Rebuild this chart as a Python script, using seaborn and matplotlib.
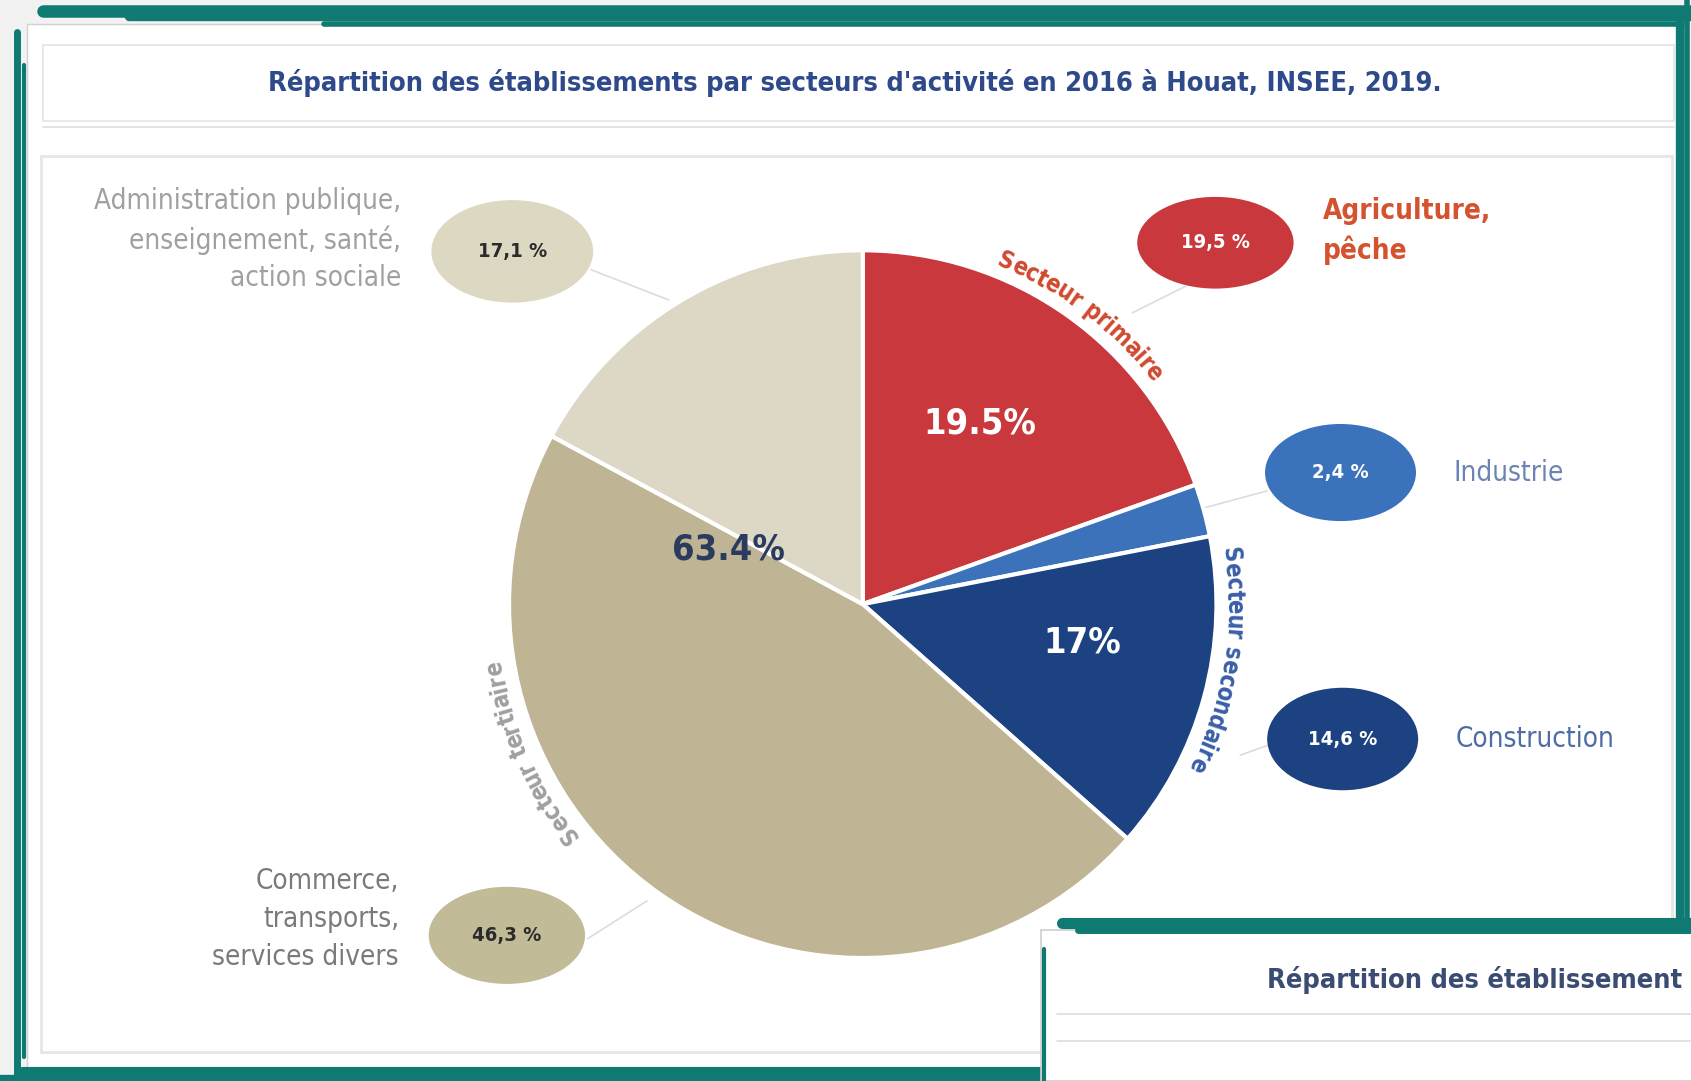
"""
plot.py  ·  Répartition des établissements par secteurs d'activité – Houat 2016
Run:  python plot.py   ->  out.png
"""

import numpy as np
import matplotlib
matplotlib.use("Agg")
import matplotlib.pyplot as plt
from matplotlib.patches import Ellipse, Rectangle
import seaborn as sns

# ── 1.  DATA  ──────────────────────────────────────────────────────────────
TITLE = "Répartition des établissements par secteurs d'activité en 2016 à Houat, INSEE, 2019."

categories = ["Agriculture,\npêche", "Industrie", "Construction",
              "Commerce,\ntransports,\nservices divers",
              "Administration publique,\nenseignement, santé,\naction sociale"]
shares        = [19.5, 2.4, 14.6, 46.3, 17.1]
bubble_labels = ["19,5 %", "2,4 %", "14,6 %", "46,3 %", "17,1 %"]

sectors        = ["Secteur primaire", "Secteur secondaire", "Secteur tertiaire"]
sector_labels  = ["19.5%", "17%", "63.4%"]

# ── 2.  STYLE  ─────────────────────────────────────────────────────────────
sns.set_theme(style="white")
plt.rcParams["font.family"] = ["DejaVu Sans"]
plt.rcParams["font.stretch"] = "condensed"

slice_colors  = ["#c8383c", "#3b72b9", "#1c4282", "#bfb595", "#ddd7c5"]
bubble_colors = ["#c8383c", "#3a72bb", "#1c4282", "#c2bb98", "#dcd8c2"]
bubble_text   = ["white", "white", "white", "#2b2b2b", "#2b2b2b"]
label_colors  = ["#d5522f", "#6c84b2", "#4d6ca3", "#7a7a7a", "#a0a0a0"]
sector_colors = ["#d04a2e", "#3a5fa8", "#a0a0a0"]
TEAL = "#0f7a72"

W, H = 1568, 1002                       # working coordinates (shrunk px)
def Y(y):                               # top-down pixel -> data y
    return H - y

fig = plt.figure(figsize=(16.91, 10.81), dpi=100)
fig.patch.set_facecolor("#f2f2f2")
ax = fig.add_axes([0, 0, 1, 1])
ax.set_xlim(0, W); ax.set_ylim(0, H)
ax.axis("off")
renderer = fig.canvas.get_renderer()
PX2DATA = W / 1691.0

# ── 3.  FRAME / CARD  ──────────────────────────────────────────────────────
ax.add_patch(Rectangle((25, Y(992)), 1535, 970, fc="white", ec="#d0d0d0", lw=1, zorder=0))
for y0, x0, x1, lw in [(10, 40, 1568, 9), (16, 120, 1568, 6), (22, 300, 1560, 4),
                       (994, 20, 1568, 8), (1000, 0, 1568, 6)]:
    ax.plot([x0, x1], [Y(y0), Y(y0)], color=TEAL, lw=lw, solid_capstyle="round", zorder=1)
for x0, y0, y1, lw in [(16, 30, 1002, 5), (22, 60, 980, 3), (1558, 15, 850, 6), (1564, 0, 860, 4)]:
    ax.plot([x0, x0], [Y(y0), Y(y1)], color=TEAL, lw=lw, solid_capstyle="round", zorder=1)

ax.add_patch(Rectangle((40, Y(112)), 1512, 70, fc="white", ec="#e4e4e4", lw=1.2, zorder=1))
ax.plot([40, 1552], [Y(118), Y(118)], color="#dedede", lw=1.2, zorder=1)
ax.add_patch(Rectangle((38, Y(975)), 1512, 830, fc="white", ec="#e6e6e6", lw=2, zorder=1))

ax.text(793, Y(77), TITLE, ha="center", va="center", fontsize=19.5, fontweight="bold",
        color="#2e4a8a", zorder=5)

# ── 4.  PIE  ───────────────────────────────────────────────────────────────
CX, CY, R = 800, 560, 328
wedges, _ = ax.pie(shares, colors=slice_colors, startangle=90, counterclock=False,
                   center=(CX, Y(CY)), radius=R, frame=True,
                   wedgeprops=dict(edgecolor="white", linewidth=3))
for w in wedges:
    w.set_zorder(3)
ax.set_xlim(0, W); ax.set_ylim(0, H); ax.set_aspect("auto")
ax.axis("off")

# big sector percentages
sector_pos = [(57, 0.61), (-10, 0.63), (158, 0.41)]
sector_txt = ["white", "white", "#2a3b5e"]
for lab, (ang, rr), c in zip(sector_labels, sector_pos, sector_txt):
    a = np.deg2rad(ang)
    ax.text(CX + rr * R * np.cos(a), Y(CY) + rr * R * np.sin(a), lab, ha="center",
            va="center", fontsize=26, fontweight="bold", color=c, zorder=6)

# curved sector names (clockwise, letter tops facing outward)
def text_width(s, size):
    t = ax.text(0, 0, s, fontsize=size, fontweight="bold")
    w = t.get_window_extent(renderer).width if s else 0.0
    t.remove()
    return w * PX2DATA

def arc_text(text, r, a_mid, color, size):
    total = text_width(text, size)
    a_start = a_mid + np.rad2deg(total / 2 / r)
    for k, ch in enumerate(text):
        if ch == " ":
            continue
        s = (text_width(text[:k], size) + text_width(text[:k + 1], size)) / 2
        a = a_start - np.rad2deg(s / r)
        t = np.deg2rad(a)
        ax.text(CX + r * np.cos(t), Y(CY) + r * np.sin(t), ch, rotation=a - 90,
                ha="center", va="center", fontsize=size, fontweight="bold",
                color=color, rotation_mode="anchor", zorder=6)

arc_text(sectors[0], 344, 53, sector_colors[0], 17)
arc_text(sectors[1], 344, -9, sector_colors[1], 17)
arc_text(sectors[2], 346, 204, sector_colors[2], 17)

# ── 5.  BUBBLES + LABELS  ──────────────────────────────────────────────────
bubble_pos = [(1127, 225), (1243, 438), (1245, 685), (470, 867), (475, 233)]
bubble_wh  = [(145, 85), (140, 90), (140, 95), (145, 90), (150, 95)]
leader     = [((1100, 265), (1050, 290)), ((1175, 455), (1112, 472)),
              ((1178, 690), (1150, 700)), ((545, 870), (600, 835)),
              ((548, 250), (620, 278))]
label_pos  = [(1227, 214, "left"), (1348, 438, "left"), (1350, 685, "left"),
              (370, 852, "right"), (372, 222, "right")]

for i, cat in enumerate(categories):
    (bx, by), (bw, bh) = bubble_pos[i], bubble_wh[i]
    (lx0, ly0), (lx1, ly1) = leader[i]
    ax.plot([lx0, lx1], [Y(ly0), Y(ly1)], color="#dcdcdc", lw=1.2, zorder=2)
    ax.add_patch(Ellipse((bx, Y(by)), bw, bh, fc=bubble_colors[i], ec="none", zorder=4))
    ax.text(bx, Y(by), bubble_labels[i], ha="center", va="center", fontsize=14.5,
            fontweight="bold", color=bubble_text[i], zorder=5)
    tx, ty, ha = label_pos[i]
    ax.text(tx, Y(ty), cat, ha=ha, va="center", fontsize=20, color=label_colors[i],
            fontweight="bold" if i == 0 else "normal", linespacing=1.45, zorder=5)

# ── 6.  OVERLAPPING SECOND CARD (bottom right)  ───────────────────────────
ax.add_patch(Rectangle((965, 0), 620, Y(862), fc="white", ec="#cfcfcf", lw=1.2, zorder=8))
for y0, x0, lw in [(856, 985, 8), (862, 1000, 5)]:
    ax.plot([x0, W], [Y(y0), Y(y0)], color=TEAL, lw=lw, solid_capstyle="round", zorder=9)
ax.plot([968, 968], [Y(880), 0], color=TEAL, lw=3, zorder=9)
ax.plot([980, W], [Y(940), Y(940)], color="#dedede", lw=1.2, zorder=9)
ax.plot([980, W], [Y(965), Y(965)], color="#dedede", lw=1.2, zorder=9)
ax.text(1175, Y(908), "Répartition des établissement", ha="left", va="center",
        fontsize=19.5, fontweight="bold", color="#3b4c72", zorder=10)

fig.savefig("out.png", dpi=100, facecolor=fig.get_facecolor())
